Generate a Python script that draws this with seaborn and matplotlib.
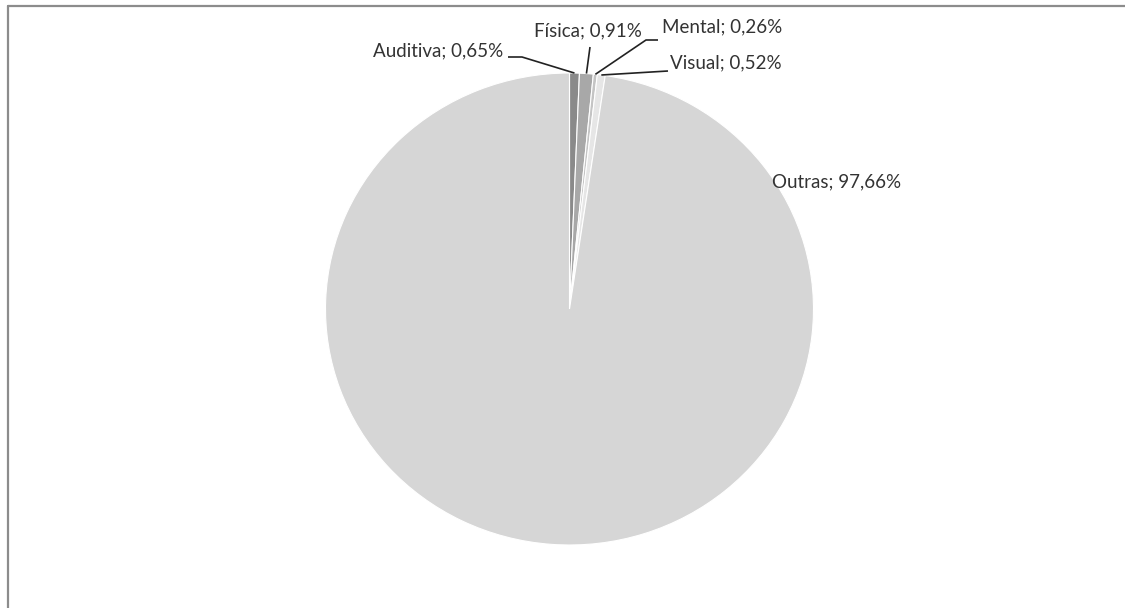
import numpy as np
import matplotlib
matplotlib.use("Agg")
import matplotlib.pyplot as plt
from matplotlib.lines import Line2D
import seaborn as sns

# Deficiency types and their share of the total (%)
categories = ["Auditiva", "Física", "Mental", "Visual", "Outras"]
shares = [0.65, 0.91, 0.26, 0.52, 97.66]
labels = [f"{c}; {v:.2f}%".replace(".", ",") for c, v in zip(categories, shares)]

slice_colors = ["#8a8a8a", "#a8a8a8", "#c4c4c4", "#e6e6e6", "#d6d6d6"]

sns.set_theme(style="white")
plt.rcParams["font.family"] = ["Lato", "DejaVu Sans"]

W, H = 1125, 608
fig = plt.figure(figsize=(W / 100, H / 100), dpi=100)
fig.patch.set_facecolor("white")

# chart frame (top and left edges visible)
fig.add_artist(Line2D([8 / W, 8 / W], [0, 1 - 6 / H], color="#8c8c8c", lw=1.6))
fig.add_artist(Line2D([8 / W, 1], [1 - 6 / H, 1 - 6 / H], color="#8c8c8c", lw=1.6))

# pie area in pixels: centre and radii
cx, cy, rx, ry = 569.5, 309.0, 244.0, 236.0
ax = fig.add_axes([(cx - rx) / W, (H - cy - ry) / H, 2 * rx / W, 2 * ry / H])

wedges, _ = ax.pie(shares, colors=slice_colors, startangle=90, counterclock=False,
                   radius=1.0, wedgeprops=dict(edgecolor="white", linewidth=0.8))
ax.set_aspect("auto")
ax.set_xlim(-1, 1)
ax.set_ylim(-1, 1)
ax.axis("off")


def to_data(px, py):
    return (px - cx) / rx, (cy - py) / ry


# label placement (pixel anchors) and leader elbows
label_style = [
    # (text anchor px, ha, elbow points px)
    ((503, 51), "right", [(508, 57), (522, 57)]),
    ((588, 31), "center", [(590, 47)]),
    ((662, 27), "left", [(658, 40), (646, 40)]),
    ((670, 63), "left", [(668, 71)]),
    ((772, 182), "left", None),
]

txt_color = "#333333"
for w, lab, (anchor, ha, elbows) in zip(wedges, labels, label_style):
    tx, ty = to_data(*anchor)
    ax.text(tx, ty, lab, ha=ha, va="center", fontsize=13.5, color=txt_color, clip_on=False)
    if elbows:
        ang = np.deg2rad((w.theta1 + w.theta2) / 2)
        pts = [to_data(*p) for p in elbows] + [(np.cos(ang), np.sin(ang))]
        xs, ys = zip(*pts)
        ax.plot(xs, ys, color="#222222", lw=1.2, clip_on=False, solid_capstyle="butt")

fig.savefig("out.png", dpi=100, facecolor="white")
